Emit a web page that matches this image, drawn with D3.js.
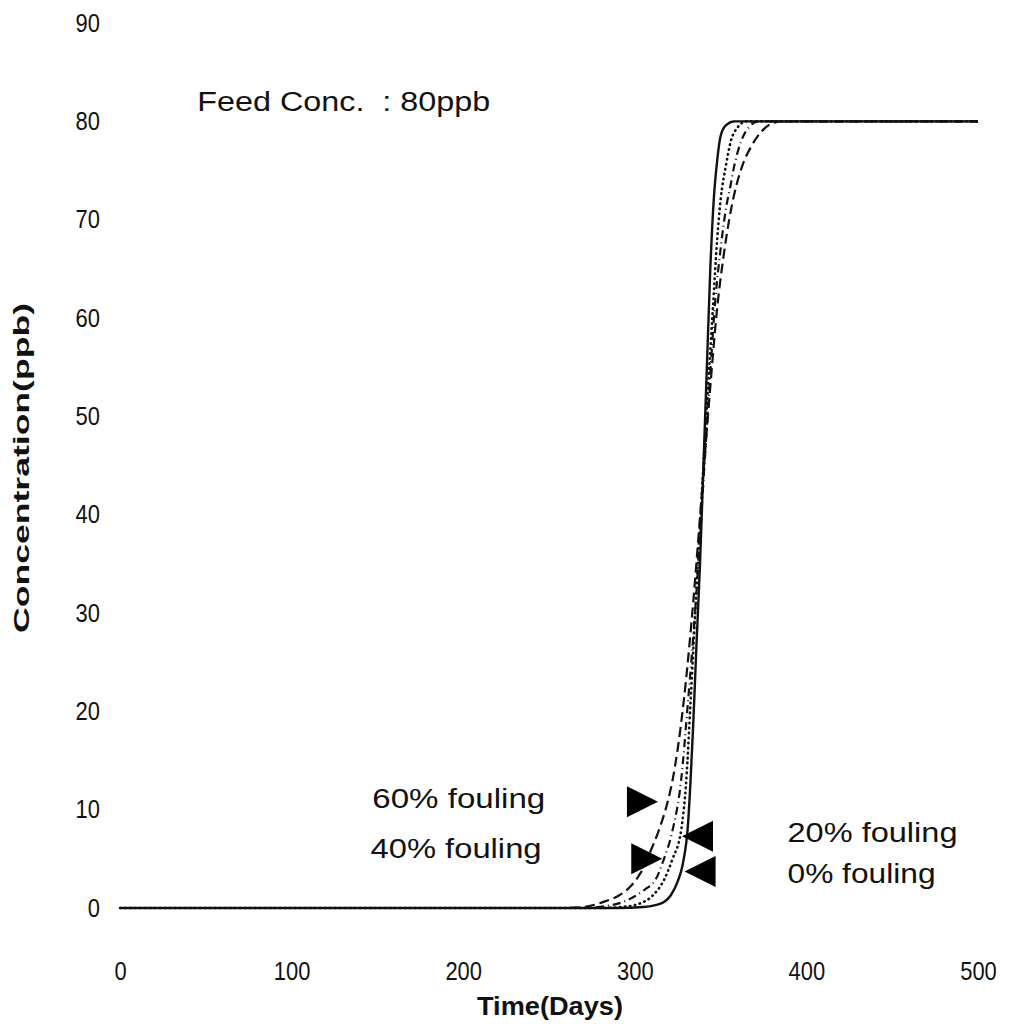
<!DOCTYPE html>
<html>
<head>
<meta charset="utf-8">
<script src="https://cdn.jsdelivr.net/npm/d3@7"></script>
<style>
  body { margin: 0; background: #fff; }
  text { font-family: "Liberation Sans", Arial, sans-serif; fill: #111; }
</style>
</head>
<body>
<svg id="chart" width="1010" height="1024"></svg>
<script>
// breakthrough curves, concentration (ppb) vs time (days)
const xTicks = [0, 100, 200, 300, 400, 500];
const yTicks = [0, 10, 20, 30, 40, 50, 60, 70, 80, 90];

const foul0Days  = [0, 290, 305, 312, 317, 321, 325, 328, 331, 332.5, 334, 336, 338, 340, 342, 344, 346, 348, 350, 353, 358, 500];
const foul0Conc  = [0, 0, 0.1, 0.3, 0.6, 1.3, 2.7, 4.5, 8.5, 13, 18.5, 27, 35, 45, 55, 65, 72, 76, 78.5, 79.6, 80, 80];

const foul20Days = [0, 280, 292, 302, 310, 317, 322, 327, 330, 332.5, 335.5, 339, 342, 345.5, 348, 350, 353, 356, 360, 365, 500];
const foul20Conc = [0, 0, 0.1, 0.4, 1.2, 2.85, 5, 7.9, 13, 21, 31, 42, 51, 61, 68, 72, 75.4, 78, 79.4, 80, 80];

const foul40Days = [0, 270, 283, 293, 300, 306, 312, 317, 322, 327, 331, 335.5, 339.5, 343.5, 347, 350, 353, 355.8, 358, 362, 367, 372, 500];
const foul40Conc = [0, 0, 0.2, 0.6, 1.2, 1.9, 2.85, 5, 7.9, 13, 21, 31, 42, 53, 62, 67, 71, 73.5, 75.5, 78, 79.5, 80, 80];

const foul60Days = [0, 260, 270, 276, 283, 290, 297, 302, 306, 309, 314, 319, 322, 328.5, 334, 339, 344, 348, 351.5, 355, 358.5, 362.5, 368, 374, 380, 386, 500];
const foul60Conc = [0, 0, 0.1, 0.3, 0.7, 1.2, 2.1, 3.2, 4.4, 5.7, 7.9, 10.7, 13, 21, 31, 42, 53, 61, 66, 70, 73, 75.4, 77.5, 79, 79.8, 80, 80];

const seriesNames = ['0% fouling', '20% fouling', '40% fouling', '60% fouling'];

const series = [
  {name: seriesNames[0], days: foul0Days,  conc: foul0Conc,  dash: null,        width: 2.4, cap: 'butt'},
  {name: seriesNames[1], days: foul20Days, conc: foul20Conc, dash: '0.5,4.5',   width: 2.6, cap: 'round'},
  {name: seriesNames[2], days: foul40Days, conc: foul40Conc, dash: '8,4,1,4',   width: 2.2, cap: 'butt'},
  {name: seriesNames[3], days: foul60Days, conc: foul60Conc, dash: '10,5',      width: 2.2, cap: 'butt'}
];

// annotation labels and arrow heads, placed in data space
const labels = [
  {text: '60% fouling', day: 147, conc: 10.2, len: 173},
  {text: '40% fouling', day: 146, conc: 5.1,  len: 171},
  {text: '20% fouling', day: 389, conc: 6.7,  len: 170},
  {text: '0% fouling',  day: 389, conc: 2.5,  len: 148}
];
const arrows = [
  {day: 313.5, conc: 10.8, dir: 1},
  {day: 316,   conc: 5.0,  dir: 1},
  {day: 327.5, conc: 7.3,  dir: -1},
  {day: 329,   conc: 3.7,  dir: -1}
];

const svg = d3.select('#chart');

const x = d3.scaleLinear().domain([0, 500]).range([120, 978]);
const y = d3.scaleLinear().domain([0, 90]).range([908, 23]);

const tickFont = g => g.selectAll('text')
  .style('font-family', '"Liberation Sans", Arial, sans-serif')
  .style('font-size', '25px')
  .attr('fill', '#222')
  .attr('textLength', function() { return this.textContent.length * 12.2; })
  .attr('lengthAdjust', 'spacingAndGlyphs');

// axes: labels only, no lines
const xAxis = svg.append('g')
  .attr('transform', 'translate(0,962)')
  .call(d3.axisBottom(x).tickValues(xTicks).tickSize(0).tickPadding(0));
xAxis.select('.domain').remove();
xAxis.call(tickFont);

const yAxis = svg.append('g')
  .attr('transform', 'translate(100,0)')
  .call(d3.axisLeft(y).tickValues(yTicks).tickSize(0).tickPadding(0));
yAxis.select('.domain').remove();
yAxis.call(tickFont);

// axis titles
svg.append('text')
  .attr('x', 550).attr('y', 1015)
  .attr('text-anchor', 'middle')
  .attr('textLength', 146).attr('lengthAdjust', 'spacingAndGlyphs')
  .style('font-size', '26px').style('font-weight', 'bold')
  .text('Time(Days)');

svg.append('text')
  .attr('transform', 'translate(29,468) rotate(-90)')
  .attr('text-anchor', 'middle')
  .attr('textLength', 330).attr('lengthAdjust', 'spacingAndGlyphs')
  .style('font-size', '22px').style('font-weight', 'bold')
  .text('Concentration(ppb)');

// curves
const line = d3.line()
  .x(d => x(d[0]))
  .y(d => y(d[1]))
  .curve(d3.curveMonotoneX);

series.forEach(s => {
  const pts = s.days.map((d, i) => [d, s.conc[i]]);
  svg.append('path')
    .datum(pts)
    .attr('fill', 'none')
    .attr('stroke', '#111')
    .attr('stroke-width', s.width)
    .attr('stroke-linecap', s.cap)
    .attr('stroke-dasharray', s.dash)
    .attr('d', line);
});

// feed concentration note
svg.append('text')
  .attr('x', x(45)).attr('y', y(81.1))
  .attr('textLength', 293).attr('lengthAdjust', 'spacingAndGlyphs')
  .style('font-size', '27px')
  .style('white-space', 'pre')
  .text('Feed Conc.  : 80ppb');

svg.selectAll('.lbl').data(labels).join('text')
  .attr('class', 'lbl')
  .attr('x', d => x(d.day)).attr('y', d => y(d.conc))
  .attr('textLength', d => d.len).attr('lengthAdjust', 'spacingAndGlyphs')
  .style('font-size', '27px')
  .text(d => d.text);

// arrow heads: filled triangles, tip at the anchor point
const tri = 31;
svg.selectAll('.arrow').data(arrows).join('path')
  .attr('class', 'arrow')
  .attr('fill', '#000')
  .attr('d', d => {
    const tx = x(d.day), ty = y(d.conc);
    const bx = tx - d.dir * tri;
    return `M${tx},${ty}L${bx},${ty - tri / 2}L${bx},${ty + tri / 2}Z`;
  });
</script>
</body>
</html>
